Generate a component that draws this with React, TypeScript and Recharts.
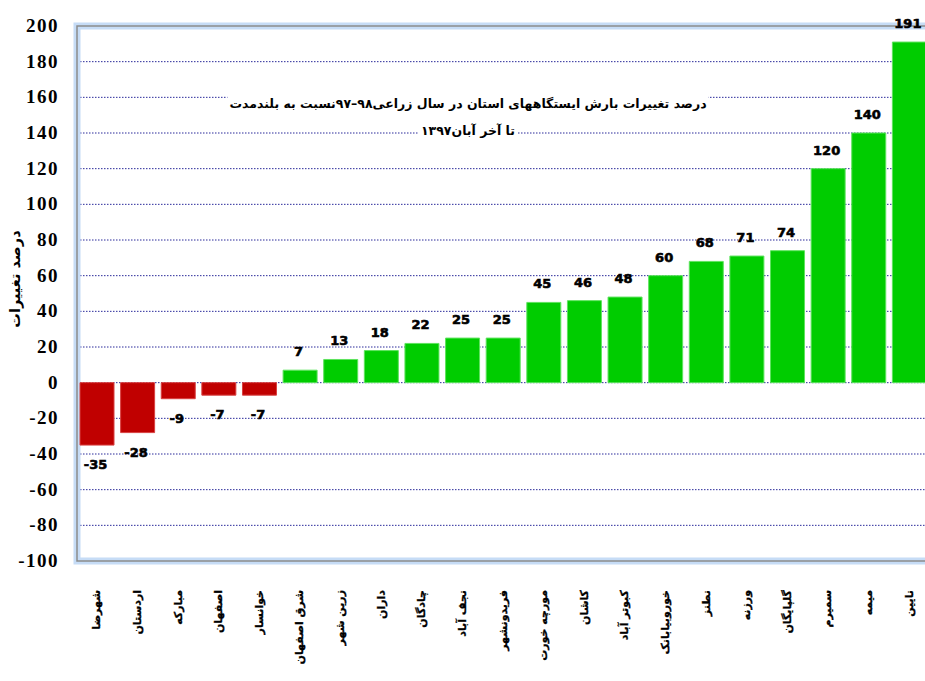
import React from "react";
import {
  BarChart,
  Bar,
  XAxis,
  YAxis,
  CartesianGrid,
  Cell,
  LabelList,
  ReferenceArea,
} from "recharts";

const stations = [
  "شهرضا",
  "اردستان",
  "مبارکه",
  "اصفهان",
  "خوانسار",
  "شرق اصفهان",
  "زرین شهر",
  "داران",
  "چادگان",
  "نجف آباد",
  "فریدونشهر",
  "مورچه خورت",
  "کاشان",
  "کبوتر آباد",
  "خوروبیابانک",
  "نطنز",
  "ورزنه",
  "گلپایگان",
  "سمیرم",
  "میمه",
  "نایین",
];

const changes = [
  -35, -28, -9, -7, -7, 7, 13, 18, 22, 25, 25, 45, 46, 48, 60, 68, 71, 74, 120,
  140, 191,
];

const yTicks = [
  200, 180, 160, 140, 120, 100, 80, 60, 40, 20, 0, -20, -40, -60, -80, -100,
];

const titleLine1 =
  "درصد تغییرات بارش ایستگاههای استان در سال زراعی۹۸–۹۷نسبت به بلندمدت";
const titleLine2 = "تا آخر آبان۱۳۹۷";
const yLabel = "درصد تغییرات";

const data = stations.map((name, i) => ({ name, value: changes[i] }));

const arabicFont = "'DejaVu Sans', sans-serif";

const StationTick = (props: any) => {
  const { x, payload } = props;
  const bx = x + 3;
  return (
    <text
      x={bx}
      y={590}
      transform={`rotate(-90, ${bx}, 590)`}
      textAnchor="end"
      fontFamily={arabicFont}
      fontWeight="bold"
      fontSize={11}
      fill="#000"
      stroke="#000"
      strokeWidth={0.3}
    >
      {payload.value}
    </text>
  );
};

const ValueTick = (props: any) => {
  const { x, y, payload } = props;
  return (
    <text
      x={x - 18}
      y={y}
      dy={6}
      textAnchor="end"
      fontFamily="Liberation Serif"
      fontWeight="bold"
      fontSize={19}
      letterSpacing={1.5}
      fill="#000"
    >
      {payload.value}
    </text>
  );
};

const renderLabel = (props: any) => {
  const vb = props.viewBox && props.viewBox.width != null ? props.viewBox : props;
  const x = Number(vb.x);
  const y = Number(vb.y);
  const w = Number(vb.width);
  const h = Number(vb.height);
  const value = Number(props.value);
  const top = Math.min(y, y + h);
  const bottom = Math.max(y, y + h);
  const ty = value >= 0 ? top - 14 : bottom + 24;
  return (
    <text
      x={x + w / 2 - 1.5}
      y={ty}
      textAnchor="middle"
      fontFamily="'DejaVu Sans', sans-serif"
      fontWeight="bold"
      fontSize={13}
      fill="#000"
      stroke="#000"
      strokeWidth={0.6}
    >
      {value}
    </text>
  );
};

const TitleLine = ({ text, top }: { text: string; top: number }) => (
  <div
    dir="rtl"
    style={{
      position: "absolute",
      left: 468,
      top,
      transform: "translateX(-50%)",
      background: "#fff",
      whiteSpace: "nowrap",
      fontFamily: arabicFont,
      fontWeight: "bold",
      fontSize: 12.5,
      lineHeight: "17px",
      padding: "0 2px",
    }}
  >
    {text}
  </div>
);

export default function App() {
  return (
    <div
      style={{
        position: "fixed",
        left: 0,
        top: 0,
        width: 925,
        height: 681,
        overflow: "hidden",
        background: "#fff",
      }}
    >
      <BarChart
        width={930}
        height={681}
        data={data}
        margin={{ top: 26, right: 0, bottom: 0, left: 0 }}
      >
        <CartesianGrid
          vertical={false}
          stroke="#2a2a9a"
          strokeDasharray="1.5 1.5"
        />
        <ReferenceArea
          y1={-100}
          y2={200}
          fill="none"
          stroke="#c6dcf6"
          strokeWidth={7}
          ifOverflow="visible"
        />
        <ReferenceArea
          y1={-100}
          y2={200}
          fill="none"
          stroke="#8c8c8c"
          strokeWidth={1.5}
          ifOverflow="visible"
        />
        <XAxis
          dataKey="name"
          interval={0}
          height={120}
          axisLine={false}
          tickLine={false}
          tick={<StationTick />}
        />
        <YAxis
          width={77}
          domain={[-100, 200]}
          ticks={yTicks}
          interval={0}
          axisLine={false}
          tickLine={false}
          tickSize={0}
          tickMargin={0}
          tick={<ValueTick />}
        />
        <Bar dataKey="value" barSize={34} isAnimationActive={false}>
          {data.map((d, i) => (
            <Cell
              key={i}
              fill={d.value < 0 ? "#C00000" : "#00CC00"}
              stroke={d.value < 0 ? "#d84040" : "#5ee35e"}
              strokeWidth={1}
            />
          ))}
          <LabelList dataKey="value" content={renderLabel} />
        </Bar>
      </BarChart>
      <TitleLine text={titleLine1} top={95} />
      <TitleLine text={titleLine2} top={122} />
      <div
        style={{
          position: "absolute",
          left: 15,
          top: 279,
          transform: "translate(-50%, -50%) rotate(-90deg)",
          whiteSpace: "nowrap",
          fontFamily: arabicFont,
          fontWeight: "bold",
          fontSize: 14.5,
        }}
      >
        {yLabel}
      </div>
    </div>
  );
}
